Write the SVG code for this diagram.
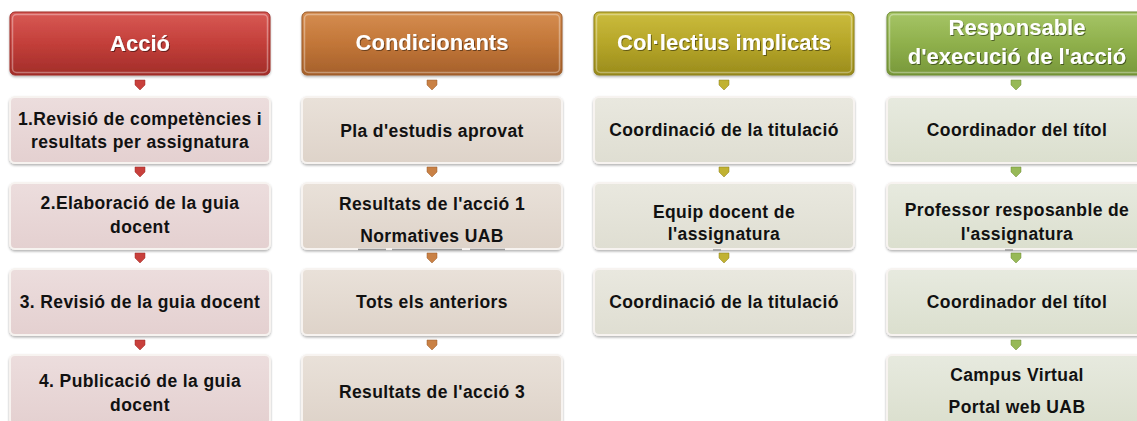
<svg xmlns="http://www.w3.org/2000/svg" width="1137" height="421" viewBox="0 0 1137 421">
<defs>
<linearGradient id="hR" x1="0" y1="0" x2="0" y2="1"><stop offset="0" stop-color="#d85a55"/><stop offset="0.5" stop-color="#c33f3a"/><stop offset="1" stop-color="#a22d29"/></linearGradient>
<linearGradient id="hO" x1="0" y1="0" x2="0" y2="1"><stop offset="0" stop-color="#d58d50"/><stop offset="0.5" stop-color="#c27638"/><stop offset="1" stop-color="#a5602b"/></linearGradient>
<linearGradient id="hY" x1="0" y1="0" x2="0" y2="1"><stop offset="0" stop-color="#cbbc3d"/><stop offset="0.5" stop-color="#b6a629"/><stop offset="1" stop-color="#9a8c1c"/></linearGradient>
<linearGradient id="hG" x1="0" y1="0" x2="0" y2="1"><stop offset="0" stop-color="#a6c566"/><stop offset="0.5" stop-color="#8fb04c"/><stop offset="1" stop-color="#78983a"/></linearGradient>
<linearGradient id="bR" x1="0" y1="0" x2="0" y2="1"><stop offset="0" stop-color="#ecdddd"/><stop offset="1" stop-color="#e4d0d0"/></linearGradient>
<linearGradient id="bO" x1="0" y1="0" x2="0" y2="1"><stop offset="0" stop-color="#e9e1d9"/><stop offset="1" stop-color="#ded3c9"/></linearGradient>
<linearGradient id="bY" x1="0" y1="0" x2="0" y2="1"><stop offset="0" stop-color="#e9e8df"/><stop offset="1" stop-color="#dfded2"/></linearGradient>
<linearGradient id="bG" x1="0" y1="0" x2="0" y2="1"><stop offset="0" stop-color="#e7eadf"/><stop offset="1" stop-color="#dbdfce"/></linearGradient>
<filter id="sh" x="-5%" y="-10%" width="110%" height="130%"><feDropShadow dx="0" dy="1.5" stdDeviation="1.2" flood-color="#000" flood-opacity="0.3"/></filter>
<filter id="tsh" x="-5%" y="-20%" width="110%" height="140%"><feDropShadow dx="1" dy="1" stdDeviation="0.6" flood-color="#000" flood-opacity="0.45"/></filter>
</defs>
<style>
.hdr rect.b{stroke-width:1;filter:url(#sh)}
.hdr rect.hl{fill:none;stroke:#fff;stroke-opacity:0.35;stroke-width:1.5}
.hdr text{font-family:"Liberation Sans",Arial,sans-serif;font-weight:bold;font-size:22px;fill:#fff;text-anchor:middle;filter:url(#tsh)}
.bx rect{stroke:#f7f3f0;stroke-width:2;filter:url(#sh)}
.bx text{font-family:"Liberation Sans",Arial,sans-serif;font-weight:bold;font-size:17.5px;fill:#111;text-anchor:middle;letter-spacing:0.4px}
.arr path{stroke-width:0.5}
.mark{stroke:#9a9a9a;stroke-width:1.5}
</style>

<!-- Column 1 -->
<g id="h1" class="hdr"><rect class="b" x="10" y="12" width="260" height="63" rx="5" fill="url(#hR)" stroke="#9c2b27"/><rect class="hl" x="12.5" y="14.5" width="255" height="58" rx="4"/><text x="140" y="51">Acció</text></g>
<g id="a1" class="bx"><rect x="10" y="97" width="260" height="66" rx="5" fill="url(#bR)"/><text x="140" y="125">1.Revisió de competències i</text><text x="140" y="148">resultats per assignatura</text></g>
<g id="a2" class="bx"><rect x="10" y="183" width="260" height="66" rx="5" fill="url(#bR)"/><text x="140" y="209">2.Elaboració de la guia</text><text x="140" y="233">docent</text></g>
<g id="a3" class="bx"><rect x="10" y="269" width="260" height="66" rx="5" fill="url(#bR)"/><text x="140" y="308">3. Revisió de la guia docent</text></g>
<g id="a4" class="bx"><rect x="10" y="355" width="260" height="70" rx="5" fill="url(#bR)"/><text x="140" y="387">4. Publicació de la guia</text><text x="140" y="411">docent</text></g>

<!-- Column 2 -->
<g id="h2" class="hdr"><rect class="b" x="302" y="12" width="260" height="63" rx="5" fill="url(#hO)" stroke="#9a5a28"/><rect class="hl" x="304.5" y="14.5" width="255" height="58" rx="4"/><text x="432" y="50">Condicionants</text></g>
<g id="c1" class="bx"><rect x="302" y="97" width="260" height="66" rx="5" fill="url(#bO)"/><text x="432" y="137">Pla d'estudis aprovat</text></g>
<g id="c2" class="bx"><rect x="302" y="183" width="260" height="66" rx="5" fill="url(#bO)"/><text x="432" y="210">Resultats de l'acció 1</text><text x="432" y="242">Normatives UAB</text></g>
<g id="c3" class="bx"><rect x="302" y="269" width="260" height="66" rx="5" fill="url(#bO)"/><text x="432" y="308">Tots els anteriors</text></g>
<g id="c4" class="bx"><rect x="302" y="355" width="260" height="70" rx="5" fill="url(#bO)"/><text x="432" y="398">Resultats de l'acció 3</text></g>

<!-- Column 3 -->
<g id="h3" class="hdr"><rect class="b" x="594" y="12" width="260" height="63" rx="5" fill="url(#hY)" stroke="#8a7d18"/><rect class="hl" x="596.5" y="14.5" width="255" height="58" rx="4"/><text x="724" y="50">Col·lectius implicats</text></g>
<g id="k1" class="bx"><rect x="594" y="97" width="260" height="66" rx="5" fill="url(#bY)"/><text x="724" y="136">Coordinació de la titulació</text></g>
<g id="k2" class="bx"><rect x="594" y="183" width="260" height="66" rx="5" fill="url(#bY)"/><text x="724" y="218">Equip docent de</text><text x="724" y="240">l'assignatura</text></g>
<g id="k3" class="bx"><rect x="594" y="269" width="260" height="66" rx="5" fill="url(#bY)"/><text x="724" y="308">Coordinació de la titulació</text></g>

<!-- Column 4 -->
<g id="h4" class="hdr"><rect class="b" x="887" y="12" width="262" height="63" rx="5" fill="url(#hG)" stroke="#6c8a33"/><rect class="hl" x="889.5" y="14.5" width="257" height="58" rx="4"/><text x="1017" y="35">Responsable</text><text x="1017" y="64">d'execució de l'acció</text></g>
<g id="r1" class="bx"><rect x="887" y="97" width="262" height="66" rx="5" fill="url(#bG)"/><text x="1017" y="136">Coordinador del títol</text></g>
<g id="r2" class="bx"><rect x="887" y="183" width="262" height="66" rx="5" fill="url(#bG)"/><text x="1017" y="216">Professor resposanble de</text><text x="1017" y="240">l'assignatura</text></g>
<g id="r3" class="bx"><rect x="887" y="269" width="262" height="66" rx="5" fill="url(#bG)"/><text x="1017" y="308">Coordinador del títol</text></g>
<g id="r4" class="bx"><rect x="887" y="355" width="262" height="70" rx="5" fill="url(#bG)"/><text x="1017" y="381">Campus Virtual</text><text x="1017" y="413">Portal web UAB</text></g>

<!-- spell-check style marks -->
<g id="marks">
<line class="mark" x1="358" y1="249.5" x2="386" y2="249.5"/><line class="mark" x1="392" y1="249.5" x2="462" y2="249.5"/><line class="mark" x1="470" y1="249.5" x2="505" y2="249.5"/>
<line class="mark" x1="713" y1="250" x2="721" y2="250"/>
<line class="mark" x1="1005" y1="250" x2="1013" y2="250"/>
</g>

<!-- Connectors -->
<g id="connectors" class="arr">
<g fill="#c8403c" stroke="#9c2b27">
<path d="M135,80 h10 v5 l-5,5 l-5,-5 z"/><path d="M135,167 h10 v5 l-5,5 l-5,-5 z"/><path d="M135,253 h10 v5 l-5,5 l-5,-5 z"/><path d="M135,340 h10 v5 l-5,5 l-5,-5 z"/>
</g>
<g fill="#c98145" stroke="#9a5a28">
<path d="M427,80 h10 v5 l-5,5 l-5,-5 z"/><path d="M427,167 h10 v5 l-5,5 l-5,-5 z"/><path d="M427,253 h10 v5 l-5,5 l-5,-5 z"/><path d="M427,340 h10 v5 l-5,5 l-5,-5 z"/>
</g>
<g fill="#c1b232" stroke="#8a7d18">
<path d="M719,80 h10 v5 l-5,5 l-5,-5 z"/><path d="M719,167 h10 v5 l-5,5 l-5,-5 z"/><path d="M719,253 h10 v5 l-5,5 l-5,-5 z"/>
</g>
<g fill="#97b957" stroke="#6c8a33">
<path d="M1011,80 h10 v5 l-5,5 l-5,-5 z"/><path d="M1011,167 h10 v5 l-5,5 l-5,-5 z"/><path d="M1011,253 h10 v5 l-5,5 l-5,-5 z"/><path d="M1011,340 h10 v5 l-5,5 l-5,-5 z"/>
</g>
</g>
</svg>
